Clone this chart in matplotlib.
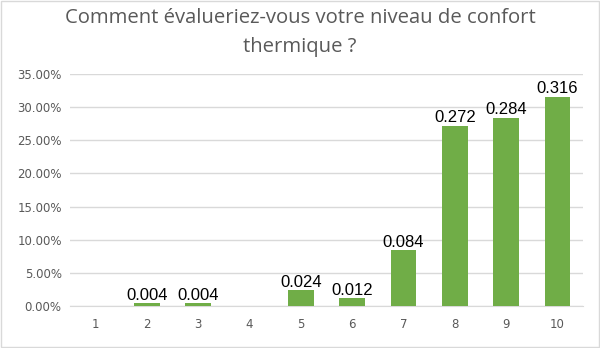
import matplotlib
matplotlib.use("Agg")
import matplotlib.pyplot as plt
from matplotlib.patches import Rectangle
from matplotlib.ticker import FuncFormatter

categories = ["1", "2", "3", "4", "5", "6", "7", "8", "9", "10"]
values = [0.0, 0.004, 0.004, 0.0, 0.024, 0.012, 0.084, 0.272, 0.284, 0.316]
labels = ["", "0.004", "0.004", "", "0.024", "0.012", "0.084", "0.272", "0.284", "0.316"]
title = "Comment évalueriez-vous votre niveau de confort\nthermique ?"

fig = plt.figure(figsize=(6.0, 3.48), dpi=100)
ax = fig.add_axes([0.1167, 0.1207, 0.855, 0.6667])

x = list(range(len(categories)))
bars = ax.bar(x, values, width=0.5, color="#70AD47", zorder=3)
for xi, v, lab in zip(x, values, labels):
    if lab:
        ax.text(xi, v + 0.0005, lab, ha="center", va="bottom", fontsize=12,
                family="Liberation Sans", color="#000000", zorder=4)

ax.set_xlim(-0.5, len(categories) - 0.5)
ax.set_ylim(0, 0.35)
ax.set_yticks([i * 0.05 for i in range(8)])
ax.yaxis.set_major_formatter(FuncFormatter(lambda v, p: f"{v*100:.2f}%"))
ax.set_xticks(x)
ax.set_xticklabels(categories)
ax.grid(axis="y", color="#D9D9D9", linewidth=1, zorder=0)
for s in ["top", "right", "left"]:
    ax.spines[s].set_visible(False)
ax.spines["bottom"].set_color("#D9D9D9")
ax.tick_params(axis="both", length=0, labelsize=9, labelcolor="#595959", pad=6)
ax.tick_params(axis="x", pad=9)
for t in ax.get_xticklabels() + ax.get_yticklabels():
    t.set_family("DejaVu Sans")
    t.set_fontsize(8.5)

fig.text(0.5, 0.976, title, ha="center", va="top", fontsize=14.6, color="#595959",
         family="Open Sans", linespacing=1.6)

fig.patches.append(Rectangle((0.002, 0.002), 0.996, 0.996, transform=fig.transFigure,
                             fill=False, edgecolor="#D9D9D9", linewidth=1))

fig.savefig("out.png", dpi=100)
